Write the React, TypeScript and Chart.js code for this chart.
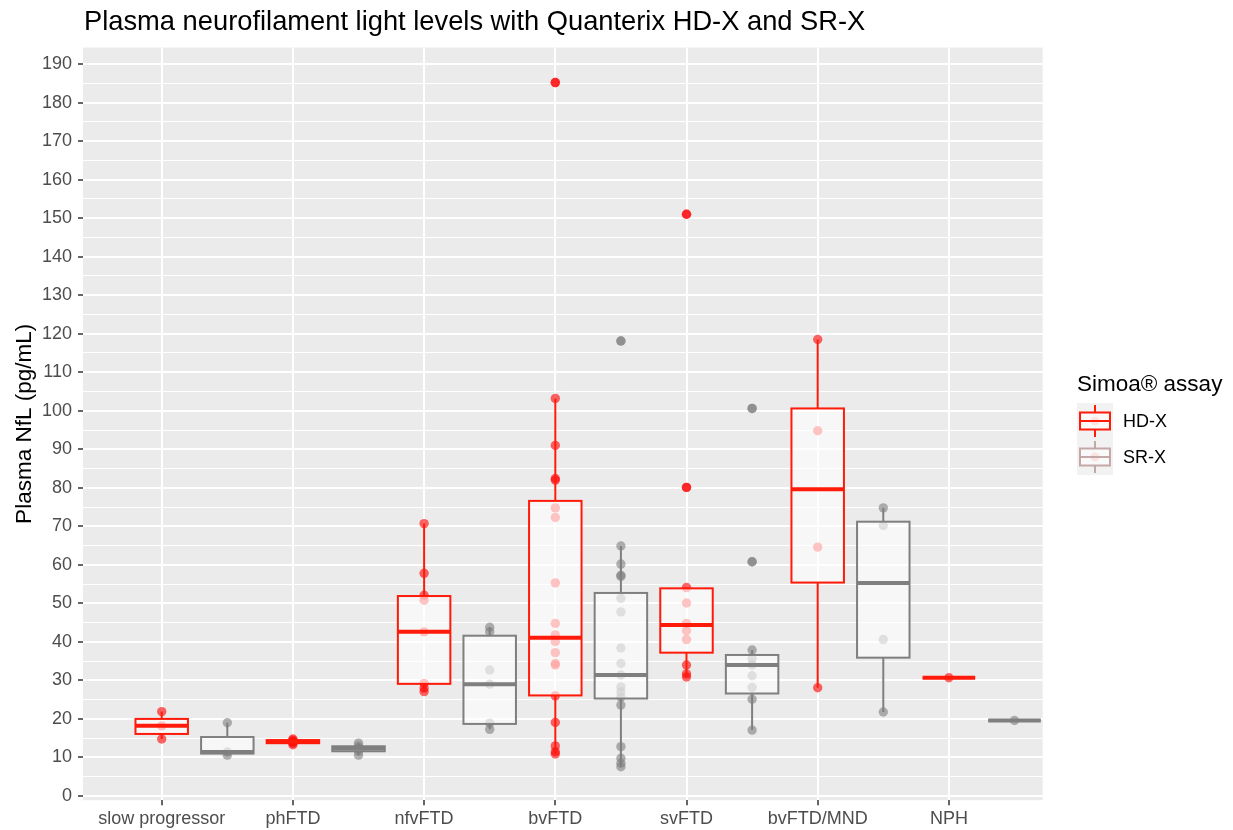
import React, { useEffect, useRef } from 'react';
import { Chart, registerables } from 'chart.js';

Chart.register(...registerables);

const FONT = '"Liberation Sans", Arial, sans-serif';

const chartTitle = 'Plasma neurofilament light levels with Quanterix HD-X and SR-X';
const yAxisTitle = 'Plasma NfL (pg/mL)';
const legendTitle = 'Simoa® assay';
const seriesNames = ['HD-X', 'SR-X'];

const categories = ['slow progressor', 'phFTD', 'nfvFTD', 'bvFTD', 'svFTD', 'bvFTD/MND', 'NPH'];

const yMajorTicks = [0, 10, 20, 30, 40, 50, 60, 70, 80, 90, 100, 110, 120, 130, 140, 150, 160, 170, 180, 190];
const yMinorTicks = [5, 15, 25, 35, 45, 55, 65, 75, 85, 95, 105, 115, 125, 135, 145, 155, 165, 175, 185];

// individual observations (HD-X)
const hdxPoints: number[][] = [
  [21.9, 18.2, 14.8],
  [13.3, 13.7, 14.1, 14.5, 14.8],
  [70.7, 57.8, 52.1, 50.8, 42.6, 29.2, 28.0, 27.1],
  [185.2, 103.2, 91.0, 82.4, 82.0, 74.8, 72.3, 55.3, 44.8, 41.8, 40.1, 37.2, 34.4, 34.0, 26.0, 19.1, 13.0, 11.5, 10.9],
  [151.0, 80.1, 54.1, 50.1, 44.8, 42.9, 40.6, 34.0, 31.7, 30.9],
  [118.5, 94.8, 64.6, 28.1],
  [30.7],
];

// individual observations (SR-X)
const srxPoints: number[][] = [
  [19.0, 11.4, 10.6],
  [10.6, 11.6, 12.3, 12.9, 13.7],
  [43.8, 42.6, 32.7, 29.0, 18.9, 17.3],
  [118.1, 64.9, 60.2, 57.3, 57.0, 51.3, 47.8, 38.4, 34.4, 31.4, 28.3, 27.0, 25.7, 23.6, 12.8, 9.8, 8.5, 7.6],
  [100.6, 60.8, 37.9, 35.6, 34.0, 31.2, 28.2, 25.1, 17.1],
  [74.8, 70.2, 40.6, 21.8],
  [19.6],
];

// boxplot outliers
const hdxOutliers: number[][] = [[], [], [], [185.2], [151.0, 80.1], [], []];
const srxOutliers: number[][] = [[], [], [], [118.1], [100.6, 60.8], [], []];

// box statistics HD-X
const hdxLow = [14.8, 13.3, 27.1, 10.9, 30.9, 28.1, 30.7];
const hdxQ1 = [16.1, 13.7, 29.1, 26.1, 37.2, 55.4, 30.7];
const hdxMedian = [18.2, 14.1, 42.6, 41.1, 44.4, 79.6, 30.7];
const hdxQ3 = [20.0, 14.5, 51.9, 76.6, 53.9, 100.6, 30.7];
const hdxHigh = [21.9, 14.8, 70.7, 103.2, 54.1, 118.5, 30.7];

// box statistics SR-X
const srxLow = [10.6, 10.6, 17.3, 7.6, 17.1, 21.8, 19.6];
const srxQ1 = [11.0, 11.6, 18.7, 25.3, 26.6, 35.9, 19.6];
const srxMedian = [11.4, 12.3, 29.0, 31.4, 34.0, 55.3, 19.6];
const srxQ3 = [15.3, 12.9, 41.6, 52.7, 36.6, 71.2, 19.6];
const srxHigh = [19.0, 13.7, 43.8, 64.9, 37.9, 74.8, 19.6];

const HDX_COLOR = '#ff1a0a';
const SRX_COLOR = '#7f7f7f';
const HDX_POINT = 'rgba(255,0,0,0.6)';
const SRX_POINT = 'rgba(127,127,127,0.6)';

const SR_OFFSET = 0.5;
const BOX_HALF = 0.2;

const series = [
  { offset: 0, color: HDX_COLOR, low: hdxLow, q1: hdxQ1, med: hdxMedian, q3: hdxQ3, high: hdxHigh },
  { offset: SR_OFFSET, color: SRX_COLOR, low: srxLow, q1: srxQ1, med: srxMedian, q3: srxQ3, high: srxHigh },
];

function toXY(groups: number[][], offset: number) {
  const out: { x: number; y: number }[] = [];
  groups.forEach((vals, i) => vals.forEach((v) => out.push({ x: i + 1 + offset, y: v })));
  return out;
}

const panelPlugin = {
  id: 'panelBg',
  beforeDraw(chart: any) {
    const { ctx, chartArea } = chart;
    ctx.save();
    ctx.fillStyle = '#ffffff';
    ctx.fillRect(0, 0, chart.width, chart.height);
    ctx.fillStyle = '#EBEBEB';
    ctx.fillRect(chartArea.left, chartArea.top, chartArea.right - chartArea.left, chartArea.bottom - chartArea.top);
    ctx.restore();
  },
};

const boxPlugin = {
  id: 'boxes',
  afterDatasetsDraw(chart: any) {
    const { ctx } = chart;
    const xs = chart.scales.x;
    const ys = chart.scales.y;
    const half = Math.abs(xs.getPixelForValue(1 + BOX_HALF) - xs.getPixelForValue(1));
    ctx.save();
    series.forEach((s) => {
      categories.forEach((_, i) => {
        const cx = xs.getPixelForValue(i + 1 + s.offset);
        const yLow = ys.getPixelForValue(s.low[i]);
        const yQ1 = ys.getPixelForValue(s.q1[i]);
        const yMed = ys.getPixelForValue(s.med[i]);
        const yQ3 = ys.getPixelForValue(s.q3[i]);
        const yHigh = ys.getPixelForValue(s.high[i]);
        ctx.strokeStyle = s.color;
        ctx.lineWidth = 2;
        // whiskers
        ctx.beginPath();
        ctx.moveTo(cx, yQ3);
        ctx.lineTo(cx, yHigh);
        ctx.moveTo(cx, yQ1);
        ctx.lineTo(cx, yLow);
        ctx.stroke();
        // box
        ctx.fillStyle = 'rgba(255,255,255,0.62)';
        ctx.fillRect(cx - half, yQ3, 2 * half, yQ1 - yQ3);
        ctx.strokeRect(cx - half, yQ3, 2 * half, yQ1 - yQ3);
        // median
        ctx.lineWidth = 4;
        ctx.beginPath();
        ctx.moveTo(cx - half, yMed);
        ctx.lineTo(cx + half, yMed);
        ctx.stroke();
      });
    });
    ctx.restore();
  },
};

const decorPlugin = {
  id: 'decor',
  afterDraw(chart: any) {
    const { ctx } = chart;
    ctx.save();
    // title
    ctx.fillStyle = '#000000';
    ctx.font = `27.3px ${FONT}`;
    ctx.textBaseline = 'middle';
    ctx.textAlign = 'left';
    ctx.fillText(chartTitle, 84, 22.5);

    // legend
    ctx.font = `22.5px ${FONT}`;
    ctx.fillText(legendTitle, 1077, 385);
    const keyX = 1077;
    const keyY = 403;
    const keyW = 36;
    const keyH = 36;
    ctx.fillStyle = '#F2F2F2';
    ctx.fillRect(keyX, keyY, keyW, keyH * 2);
    const glyphColors = [HDX_COLOR, 'rgba(190,160,160,0.9)'];
    seriesNames.forEach((name, k) => {
      const top = keyY + k * keyH;
      const cx = keyX + keyW / 2;
      const bTop = top + 9.5;
      const bBot = top + 26.5;
      const mid = top + keyH / 2;
      // point
      ctx.fillStyle = 'rgba(255,120,120,0.35)';
      ctx.beginPath();
      ctx.arc(cx, mid, 4.5, 0, Math.PI * 2);
      ctx.fill();
      ctx.strokeStyle = glyphColors[k];
      ctx.lineWidth = 2;
      ctx.beginPath();
      ctx.moveTo(cx, top + 2);
      ctx.lineTo(cx, bTop);
      ctx.moveTo(cx, bBot);
      ctx.lineTo(cx, top + keyH - 2);
      ctx.stroke();
      ctx.fillStyle = 'rgba(255,255,255,0.5)';
      ctx.fillRect(cx - 15, bTop, 30, bBot - bTop);
      ctx.strokeRect(cx - 15, bTop, 30, bBot - bTop);
      ctx.beginPath();
      ctx.moveTo(cx - 15, mid);
      ctx.lineTo(cx + 15, mid);
      ctx.stroke();
      ctx.fillStyle = '#000000';
      ctx.font = `18px ${FONT}`;
      ctx.fillText(name, 1123, mid + 1);
    });
    ctx.restore();
  },
};

export default function App() {
  const canvasRef = useRef<HTMLCanvasElement | null>(null);

  useEffect(() => {
    if (!canvasRef.current) return;
    const chart = new Chart(canvasRef.current, {
      type: 'scatter',
      data: {
        datasets: [
          { label: 'HD-X', data: toXY(hdxPoints, 0), backgroundColor: HDX_POINT, borderWidth: 0, pointRadius: 4.7 },
          { label: 'SR-X', data: toXY(srxPoints, SR_OFFSET), backgroundColor: SRX_POINT, borderWidth: 0, pointRadius: 4.7 },
          { label: 'HD-X outliers', data: toXY(hdxOutliers, 0), backgroundColor: HDX_POINT, borderWidth: 0, pointRadius: 4.7 },
          { label: 'SR-X outliers', data: toXY(srxOutliers, SR_OFFSET), backgroundColor: SRX_POINT, borderWidth: 0, pointRadius: 4.7 },
        ],
      },
      options: {
        responsive: false,
        animation: false,
        events: [],
        devicePixelRatio: 1,
        layout: { padding: { left: 0, right: 190.3, top: 47.5, bottom: 0 } },
        plugins: { legend: { display: false }, tooltip: { enabled: false }, title: { display: false } },
        scales: {
          x: {
            type: 'linear',
            min: 0.4,
            max: 7.715,
            afterBuildTicks: (s: any) => {
              s.ticks = categories.map((_, i) => ({ value: i + 1 }));
            },
            afterFit: (s: any) => {
              s.height = 29.8;
            },
            border: { display: false },
            grid: { color: '#ffffff', lineWidth: 2, tickLength: 5, tickColor: '#333333', tickWidth: 1.5 },
            ticks: {
              autoSkip: false,
              maxRotation: 0,
              padding: 3,
              color: '#4D4D4D',
              font: { family: FONT, size: 18 },
              callback: (v: any) => categories[Math.round(Number(v)) - 1] ?? '',
            },
          },
          y: {
            type: 'linear',
            min: -1.1,
            max: 194.3,
            afterBuildTicks: (s: any) => {
              s.ticks = [...yMajorTicks, ...yMinorTicks].sort((a, b) => a - b).map((v) => ({ value: v }));
            },
            afterFit: (s: any) => {
              s.width = 83;
            },
            border: { display: false },
            grid: {
              color: '#ffffff',
              lineWidth: (c: any) => (yMajorTicks.includes(c.tick?.value) ? 2 : 1),
              tickLength: 5,
              tickColor: (c: any) => (yMajorTicks.includes(c.tick?.value) ? '#333333' : 'rgba(0,0,0,0)'),
              tickWidth: 1.5,
            },
            ticks: {
              autoSkip: false,
              padding: 6,
              color: '#4D4D4D',
              font: { family: FONT, size: 18 },
              callback: (v: any) => (yMajorTicks.includes(Number(v)) ? String(v) : ''),
            },
            title: {
              display: true,
              text: yAxisTitle,
              color: '#000000',
              font: { family: FONT, size: 22.5 },
              padding: { top: 11, bottom: 0 },
            },
          },
        },
      },
      plugins: [panelPlugin, boxPlugin, decorPlugin],
    } as any);
    return () => chart.destroy();
  }, []);

  return (
    <div style={{ position: 'fixed', left: 0, top: 0, width: 1233, height: 830, background: '#ffffff' }}>
      <canvas ref={canvasRef} width={1233} height={830} style={{ width: 1233, height: 830, display: 'block' }} />
    </div>
  );
}
